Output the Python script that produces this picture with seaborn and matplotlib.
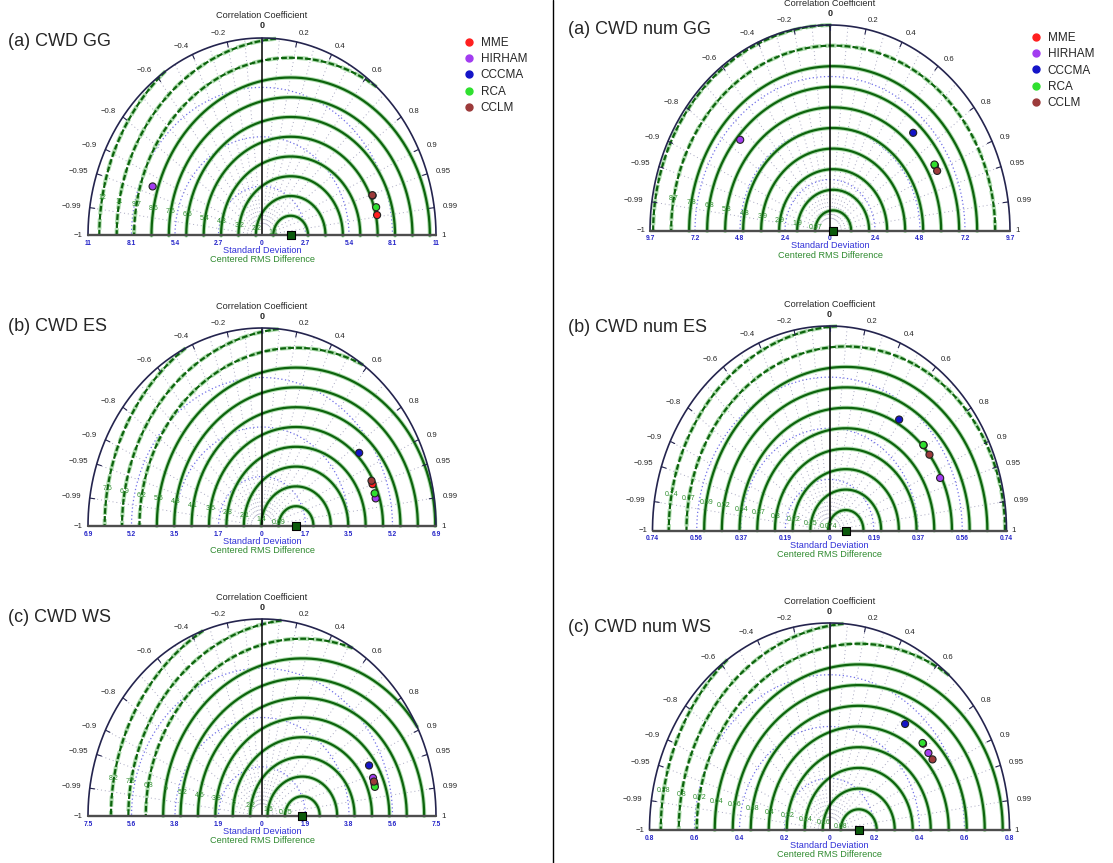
import numpy as np
import pandas as pd
import matplotlib
matplotlib.use("Agg")
import matplotlib.pyplot as plt
from matplotlib.lines import Line2D
import seaborn as sns

sns.set_theme(style="white")
plt.rcParams["font.family"] = ["Liberation Sans", "DejaVu Sans"]

W, H = 1113, 863

# ---------------------------------------------------------------- data
models = ["MME", "HIRHAM", "CCCMA", "RCA", "CCLM"]
model_colors = ["#ff1f1f", "#a23cf0", "#1414c8", "#2fe02f", "#9c3a3a"]

titles = ["(a) CWD GG", "(a) CWD num GG",
          "(b) CWD ES", "(b) CWD num ES",
          "(c) CWD WS", "(c) CWD num WS"]

# model standard deviation / correlation with observations (order as models)
std_gg = [7.23, 7.30, 7.20, 7.25, 7.20]
corr_gg = [0.988, -0.930, 0.953, 0.977, 0.952]
std_gg_num = [6.44, 6.47, 6.44, 6.44, 6.43]
corr_gg_num = [0.878, -0.748, 0.696, 0.874, 0.898]
std_es = [4.62, 4.61, 4.62, 4.61, 4.62]
corr_es = [0.949, 0.978, 0.834, 0.969, 0.940]
std_es_num = [0.500, 0.500, 0.496, 0.500, 0.500]
corr_es_num = [0.787, 0.925, 0.587, 0.785, 0.836]
std_ws = [5.00, 5.00, 5.00, 4.99, 5.00]
corr_ws = [0.970, 0.957, 0.923, 0.975, 0.965]
std_ws_num = [0.533, 0.531, 0.530, 0.533, 0.533]
corr_ws_num = [0.780, 0.828, 0.634, 0.776, 0.859]

# observed (reference) standard deviation and the axis range of each diagram
ref_std = [1.78, 0.17, 1.35, 0.068, 1.74, 0.13]
std_max = [10.8, 9.7, 6.9, 0.74, 7.5, 0.8]
std_tick_labels = [["2.7", "5.4", "8.1", "11"],
                   ["2.4", "4.8", "7.2", "9.7"],
                   ["1.7", "3.5", "5.2", "6.9"],
                   ["0.19", "0.37", "0.56", "0.74"],
                   ["1.9", "3.8", "5.6", "7.5"],
                   ["0.2", "0.4", "0.6", "0.8"]]

corr_labelled = [0, 0.2, 0.4, 0.6, 0.8, 0.9, 0.95, 0.99]
corr_grid = [0.1, 0.2, 0.3, 0.4, 0.5, 0.6, 0.7, 0.8, 0.9, 0.95, 0.99]

panel_std = [std_gg, std_gg_num, std_es, std_es_num, std_ws, std_ws_num]
panel_corr = [corr_gg, corr_gg_num, corr_es, corr_es_num, corr_ws, corr_ws_num]

# ---------------------------------------------------------------- layout (pixels)
# origin x, baseline y, horizontal and vertical radius of each half disc
geometry = [(262, 235.5, 174, 197.5), (830, 231, 180, 206),
            (262, 526, 174, 198), (829.5, 530.5, 177, 204.5),
            (262, 816, 174, 197), (829.5, 830, 180, 207)]
title_pos = [(8, 42), (568, 30), (8, 326), (568, 328), (8, 617), (568, 628)]

fig = plt.figure(figsize=(W / 100, H / 100), dpi=100)
fig.patch.set_facecolor("white")


def taylor_panel(geom, M, ref, stds, corrs, ticklabels):
    cx, cy, rh, rv = geom
    a, b0, b1 = 1.12, 0.16, 1.16
    ax = fig.add_axes([(cx - a * rh) / W, (H - cy - b0 * rv) / H,
                       2 * a * rh / W, (b0 + b1) * rv / H])
    ax.set_xlim(-a * M, a * M)
    ax.set_ylim(-b0 * M, b1 * M)
    ax.axis("off")
    ux, uy = M / rh, M / rv          # data units per pixel

    th = np.linspace(0, np.pi, 500)

    # standard deviation arcs
    for k in (1, 2, 3):
        r = M * k / 4
        ax.plot(r * np.cos(th), r * np.sin(th), ls=(0, (1, 2)),
                color="#7070e8", lw=0.9, zorder=1)
    # correlation rays
    for c in corr_grid:
        for s in (1, -1):
            t = np.arccos(s * c)
            ax.plot([0.06 * M * np.cos(t), M * np.cos(t)],
                    [0.06 * M * np.sin(t), M * np.sin(t)], ls=(0, (1, 3)),
                    color="#a8a8c0", lw=0.7, zorder=1)
    ax.plot([0, 0], [0, M], color="black", lw=1.1, zorder=3)

    # centred RMS difference circles around the reference point
    phi = np.linspace(0, np.pi, 800)
    for k in range(1, 12):
        r = k * M / 10
        x = ref + r * np.cos(phi)
        y = r * np.sin(phi)
        inside = x ** 2 + y ** 2 <= M ** 2
        if not inside.any():
            continue
        x = np.where(inside, x, np.nan)
        y = np.where(inside, y, np.nan)
        ls = (0, (2.6, 1.0)) if k >= 9 else "-"
        ax.plot(x, y, color="#9ad49a", lw=3.0, ls=ls, zorder=2, alpha=0.8)
        ax.plot(x, y, color="#0d640d", lw=1.6, ls=ls, zorder=2)
        ang = np.deg2rad(170)
        lx, ly = ref + r * np.cos(ang), r * np.sin(ang)
        if lx ** 2 + ly ** 2 < (0.97 * M) ** 2:
            ax.text(lx, ly, f"{r:.2g}", color="#2f8f2f", fontsize=5.0,
                    ha="center", va="center", zorder=4)

    # outer arc and base line
    ax.plot(M * np.cos(th), M * np.sin(th), color="#24244e", lw=1.2, zorder=3)
    ax.plot([-M, M], [0, 0], color="#4d4d4d", lw=1.7, zorder=3)

    # correlation labels and ticks on the outer arc
    for c in corr_labelled:
        for s in ((1, -1) if c else (1,)):
            val = s * c
            t = np.arccos(val)
            ct, st = np.cos(t), np.sin(t)
            ax.plot([M * ct, M * ct - 5 * ux * ct], [M * st, M * st - 5 * uy * st],
                    color="#24244e", lw=0.8, zorder=3)
            if val == 0:
                ax.text(0, M + 12 * uy, "0", fontsize=6.5, fontweight="bold",
                        ha="center", va="center")
                continue
            txt = f"{val:g}".replace("-", "\u2212")
            ax.text(M * ct + 9 * ux * ct, M * st + 9 * uy * st, txt,
                    fontsize=5.6, ha="left" if val > 0 else "right", va="center")
    ax.text(M + 5 * ux, 0, "1", fontsize=5.6, ha="left", va="center")
    ax.text(-M - 5 * ux, 0, "\u22121", fontsize=5.6, ha="right", va="center")
    ax.text(0, M + 22 * uy, "Correlation Coefficient", fontsize=6.6,
            ha="center", va="center")

    # standard deviation tick labels
    for k, lab in enumerate(ticklabels, start=1):
        for s in (1, -1):
            ax.text(s * M * k / 4, -8 * uy, lab, fontsize=4.8, fontweight="bold",
                    color="#2424c8", ha="center", va="center")
    ax.text(0, -8 * uy, "0", fontsize=4.8, fontweight="bold", color="#2424c8",
            ha="center", va="center")
    ax.text(0, -15 * uy, "Standard Deviation", fontsize=6.6, color="#3030d8",
            ha="center", va="center")
    ax.text(0, -24 * uy, "Centered RMS Difference", fontsize=6.6, color="#2f8a2f",
            ha="center", va="center")

    # model points
    corr = np.asarray(corrs)
    sd = np.asarray(stds)
    df = pd.DataFrame({"model": models,
                       "x": sd * corr,
                       "y": sd * np.sqrt(1 - corr ** 2)})
    sns.scatterplot(data=df, x="x", y="y", hue="model", hue_order=models,
                    palette=dict(zip(models, model_colors)), s=26,
                    edgecolor="#222222", linewidth=0.8, legend=False,
                    ax=ax, zorder=6, clip_on=False)
    ax.scatter([ref], [0], marker="s", s=30, c="#0c5a0c", edgecolors="black",
               linewidths=0.8, zorder=7, clip_on=False)
    ax.set_xlabel("")
    ax.set_ylabel("")
    return ax


for i in range(6):
    taylor_panel(geometry[i], std_max[i], ref_std[i], panel_std[i],
                 panel_corr[i], std_tick_labels[i])
    tx, ty = title_pos[i]
    fig.text(tx / W, 1 - ty / H, titles[i], fontsize=13, ha="left", va="center")

# divider between the two columns
fig.add_artist(Line2D([553 / W, 553 / W], [0, 1], color="black", lw=1.0))

handles = [Line2D([], [], ls="none", marker="o", markersize=5,
                  markerfacecolor=col, markeredgecolor=col) for col in model_colors]
for (lx, ly) in [(463, 37), (1030, 32)]:
    fig.legend(handles, models, loc="upper left",
               bbox_to_anchor=(lx / W, 1 - ly / H), frameon=False,
               fontsize=8.5, handlelength=1.0, handletextpad=0.5,
               labelspacing=0.36, borderpad=0, borderaxespad=0)

fig.savefig("out.png", dpi=100, facecolor="white")
